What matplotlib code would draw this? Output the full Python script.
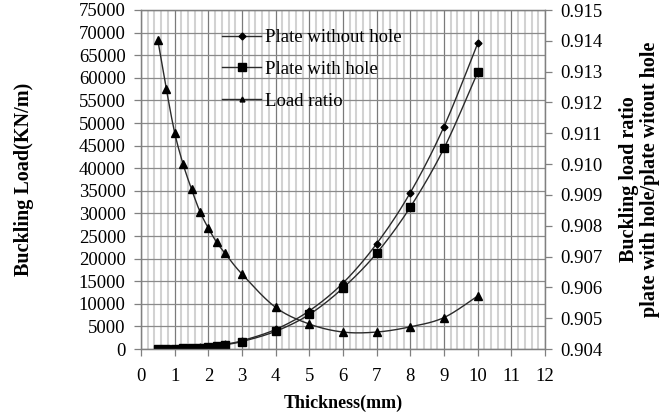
import matplotlib
matplotlib.use("Agg")
import matplotlib.pyplot as plt
from matplotlib.lines import Line2D
from matplotlib.ticker import MultipleLocator, FormatStrFormatter
import numpy as np

# thickness (mm)
thickness = [0.5, 0.75, 1.0, 1.25, 1.5, 1.75, 2.0, 2.25, 2.5, 3, 4, 5, 6, 7, 8, 9, 10]

# buckling load (KN/m)
load_without_hole = [8, 28, 68, 132, 228, 362, 540, 770, 1056, 1825, 4330,
                     8450, 14600, 23300, 34600, 49200, 67600]
load_with_hole = [7, 26, 62, 120, 207, 329, 491, 699, 957, 1654, 3915,
                  7650, 13500, 21200, 31400, 44400, 61200]

# buckling load ratio (with hole / without hole)
load_ratio = [0.91402, 0.91245, 0.91102, 0.91000, 0.90919, 0.90846, 0.90792,
              0.90746, 0.90710, 0.90643, 0.90535, 0.90481, 0.90455, 0.90455,
              0.90472, 0.90502, 0.90572]

x_ticks = list(range(0, 13))
left_ticks = list(range(0, 75001, 5000))
right_ticks = [0.904, 0.905, 0.906, 0.907, 0.908, 0.909, 0.910, 0.911,
               0.912, 0.913, 0.914, 0.915]


def smooth(xs, ys, n=20):
    # catmull-rom curve through the points, like a spreadsheet "smoothed line"
    p = np.column_stack([xs, ys]).astype(float)
    p = np.vstack([p[0], p, p[-1]])
    out = []
    t = np.linspace(0, 1, n, endpoint=False)[:, None]
    for i in range(1, len(p) - 2):
        p0, p1, p2, p3 = p[i - 1], p[i], p[i + 1], p[i + 2]
        seg = 0.5 * (2 * p1 + (-p0 + p2) * t + (2 * p0 - 5 * p1 + 4 * p2 - p3) * t ** 2
                     + (-p0 + 3 * p1 - 3 * p2 + p3) * t ** 3)
        out.append(seg)
    out.append(p[-2][None, :])
    out = np.vstack(out)
    return out[:, 0], out[:, 1]


plt.rcParams["font.family"] = ["Liberation Serif", "DejaVu Serif"]
plt.rcParams["font.size"] = 13.5

fig = plt.figure(figsize=(6.63, 4.15), dpi=100)
ax = fig.add_axes([141 / 663, 66 / 415, 404 / 663, 339 / 415])
ax2 = ax.twinx()

line_col = "#2b2b2b"

ax.set_xlim(0, 12)
ax.set_ylim(0, 75000)
ax2.set_ylim(0.904, 0.915)

ax.set_xticks(x_ticks)
ax.xaxis.set_minor_locator(MultipleLocator(0.2))
ax.set_yticks(left_ticks)
ax2.set_yticks(right_ticks)
ax2.yaxis.set_major_formatter(FormatStrFormatter("%.3f"))

ax.grid(True, which="minor", axis="x", color="#d2d2d2", linewidth=1.5)
ax.grid(True, which="major", axis="x", color="#7a7a7a", linewidth=0.9)
ax.grid(True, which="major", axis="y", color="#8a8a8a", linewidth=0.9)
ax.set_axisbelow(True)

for a in (ax, ax2):
    for s in a.spines.values():
        s.set_color("#808080")
        s.set_linewidth(0.9)

ax.tick_params(axis="both", which="major", direction="out", length=5, width=0.9,
               color="#808080", pad=6, labelsize=13.5)
ax.tick_params(axis="x", which="minor", length=0)
ax.tick_params(axis="x", pad=9)
ax2.tick_params(axis="y", direction="out", length=5, width=0.9, color="#808080",
                pad=6, labelsize=13.5)

# curves
sx, sy = smooth(thickness, load_without_hole)
ax.plot(sx, sy, color=line_col, linewidth=1.0, zorder=3)
ax.plot(thickness, load_without_hole, linestyle="none", marker="D", markersize=3.5,
        color="black", zorder=4)

sx, sy = smooth(thickness, load_with_hole)
ax.plot(sx, sy, color=line_col, linewidth=1.0, zorder=3)
ax.plot(thickness, load_with_hole, linestyle="none", marker="s", markersize=5.5,
        color="black", zorder=4)

sx, sy = smooth(thickness, load_ratio)
ax2.plot(sx, sy, color=line_col, linewidth=1.0, zorder=3)
ax2.plot(thickness, load_ratio, linestyle="none", marker="^", markersize=5.5,
         color="black", zorder=4)

ax.set_xlabel("Thickness(mm)", fontsize=13, fontweight="bold", labelpad=7)
ax.set_ylabel("Buckling Load(KN/m)", fontsize=14.5, fontweight="bold", labelpad=32)
ax2.set_ylabel("Buckling load ratio\nplate with hole/plate witout hole", fontsize=14.5,
               fontweight="bold", labelpad=12, linespacing=1.05)

handles = [
    Line2D([0], [0], color=line_col, linewidth=1.0, marker="D", markersize=3.5,
           markerfacecolor="black", markeredgecolor="black"),
    Line2D([0], [0], color=line_col, linewidth=1.0, marker="s", markersize=5.5,
           markerfacecolor="black", markeredgecolor="black"),
    Line2D([0], [0], color=line_col, linewidth=1.0, marker="^", markersize=3.5,
           markerfacecolor="black", markeredgecolor="black"),
]
labels = ["Plate without hole", "Plate with hole", "Load ratio"]
leg = ax2.legend(handles, labels, loc="upper left",
                 bbox_to_anchor=(222 / 663, 1 - 29 / 415),
                 bbox_transform=fig.transFigure, frameon=False, fontsize=13.5,
                 handlelength=2.1, handletextpad=0.2, labelspacing=0.78,
                 borderpad=0.0, borderaxespad=0.0)

fig.savefig("out.png", dpi=100)
